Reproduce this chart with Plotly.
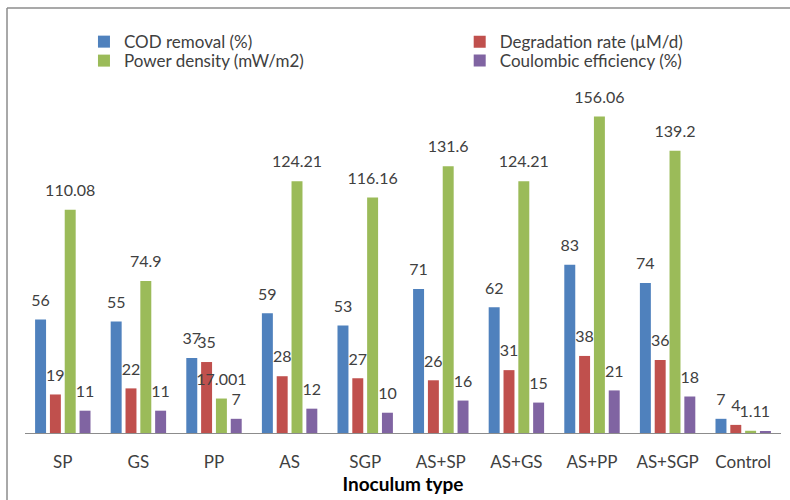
import plotly.graph_objects as go

# Inoculum types and measured values
categories = ["SP", "GS", "PP", "AS", "SGP", "AS+SP", "AS+GS", "AS+PP", "AS+SGP", "Control"]
cod_removal = [56, 55, 37, 59, 53, 71, 62, 83, 74, 7]
degradation_rate = [19, 22, 35, 28, 27, 26, 31, 38, 36, 4]
power_density = [110.08, 74.9, 17.001, 124.21, 116.16, 131.6, 124.21, 156.06, 139.2, 1.1]
coulombic_eff = [11, 11, 7, 12, 10, 16, 15, 21, 18, 1]

# (name, values, colour, legend slot)
series = [
    ("COD removal (%)", cod_removal, "#4F81BD", "legend"),
    ("Degradation rate (\u00b5M/d)", degradation_rate, "#C0504D", "legend2"),
    ("Power density (mW/m2)", power_density, "#9BBB59", "legend3"),
    ("Coulombic efficiency (%)", coulombic_eff, "#8064A2", "legend4"),
]

FONT = "Lato, 'Liberation Sans', sans-serif"
TXT = "#404040"
GAP = 0.216

fig = go.Figure()
for i, (name, vals, color, leg) in enumerate(series):
    fig.add_trace(go.Bar(
        x=categories, y=vals, name=name, legend=leg,
        marker=dict(color=color, line=dict(width=0)),
        offsetgroup=str(i), alignmentgroup="a",
    ))
# value labels, grouped the same way as the bars; an invisible marker
# pushes each label a little further above its bar
for i, (name, vals, color, leg) in enumerate(series):
    fig.add_trace(go.Scatter(
        x=categories, y=vals, mode="markers+text", showlegend=False,
        marker=dict(size=14, color="rgba(0,0,0,0)"),
        text=[f"{v:g}" for v in vals],
        textposition="top center",
        textfont=dict(size=16, color=TXT, family=FONT),
        offsetgroup=str(i), alignmentgroup="a",
        cliponaxis=False, hoverinfo="skip",
    ))

legend_common = dict(
    orientation="v", yanchor="middle", xanchor="left",
    font=dict(size=17, color=TXT, family=FONT),
    itemwidth=30, tracegroupgap=0,
    bgcolor="rgba(0,0,0,0)",
)

# two legend columns, two rows
col1, col2 = 0.078, 0.575
row1, row2 = 1.071, 1.019

fig.update_layout(
    width=790, height=500,
    margin=dict(l=25, r=9, t=68, b=67),
    paper_bgcolor="white", plot_bgcolor="white",
    barmode="group", bargap=GAP, bargroupgap=0.26,
    scattermode="group", scattergap=GAP,
    font=dict(family=FONT, color=TXT),
    showlegend=True,
    legend=dict(x=col1, y=row1, **legend_common),
    legend2=dict(x=col2, y=row1, **legend_common),
    legend3=dict(x=col1, y=row2, **legend_common),
    legend4=dict(x=col2, y=row2, **legend_common),
    xaxis=dict(
        showline=True, linecolor="#8c8c8c", linewidth=1,
        ticks="", ticklabelstandoff=14,
        tickfont=dict(size=17, color=TXT, family=FONT),
        title=dict(text="<b>Inoculum type</b>", standoff=0,
                   font=dict(size=19, color="#000000", family=FONT)),
    ),
    yaxis=dict(range=[0, 180], visible=False, showgrid=False, zeroline=False),
    shapes=[
        dict(type="line", xref="paper", yref="paper", x0=-0.0238, x1=1.1, y0=1.1646, y1=1.1646,
             line=dict(color="#8c8c8c", width=1.5)),
        dict(type="line", xref="paper", yref="paper", x0=-0.0238, x1=-0.0238, y0=1.1646, y1=-0.3,
             line=dict(color="#8c8c8c", width=1.5)),
    ],
)

fig.write_html("out.html")
